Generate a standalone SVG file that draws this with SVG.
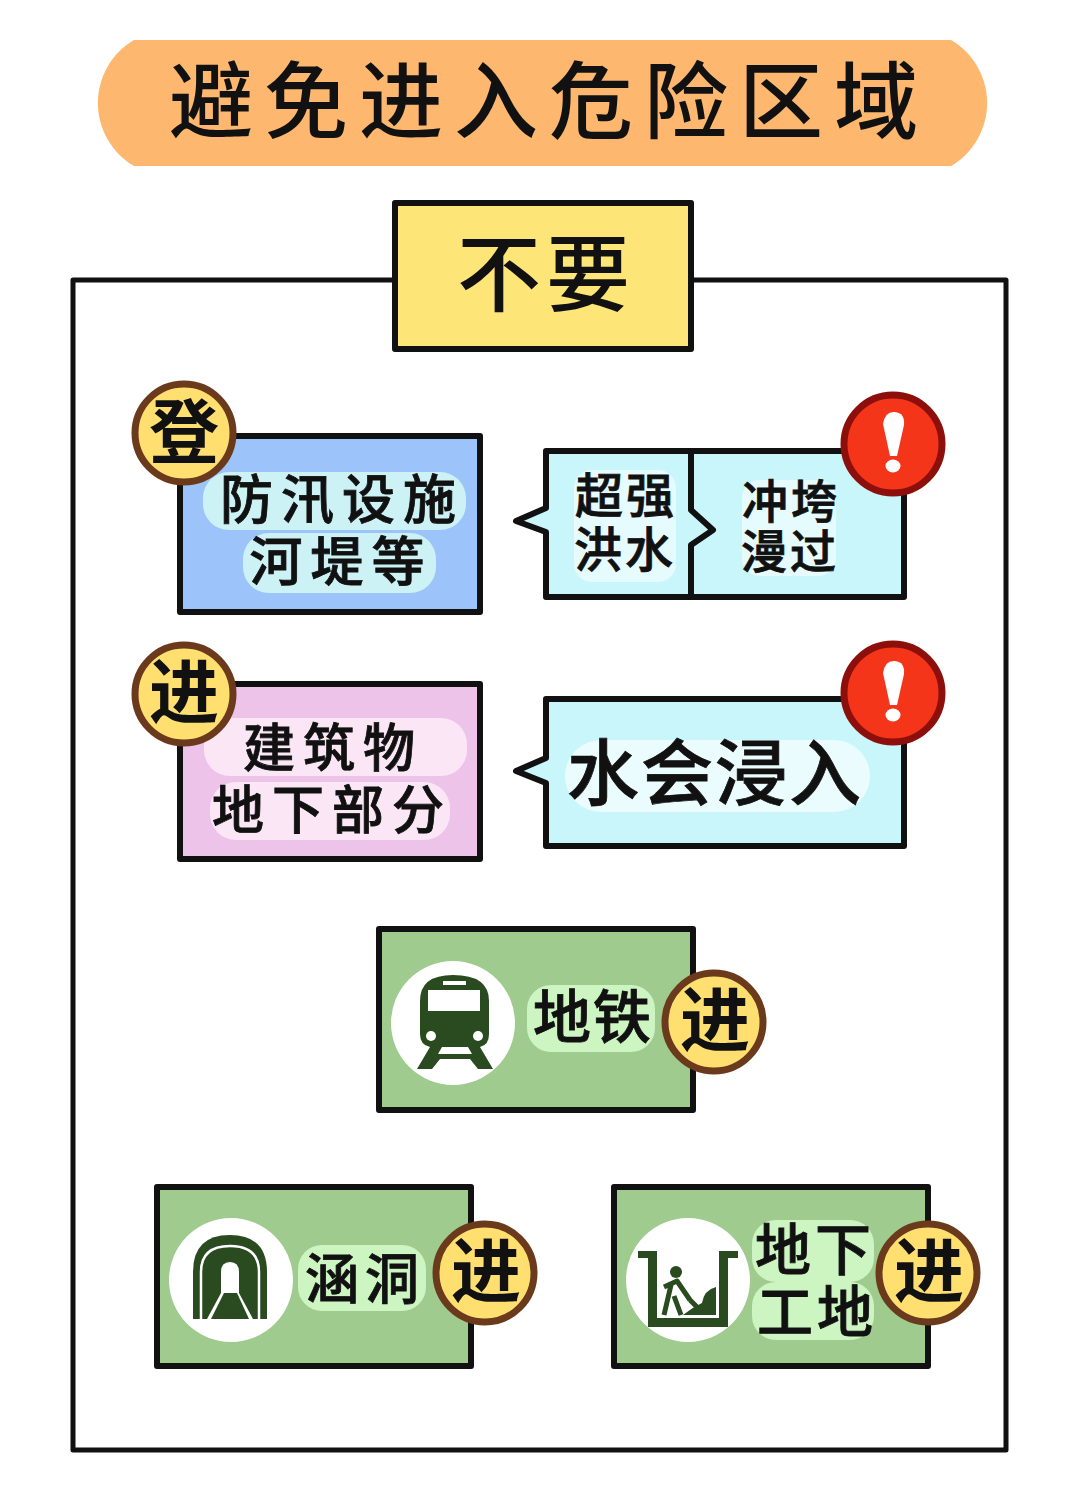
<svg xmlns="http://www.w3.org/2000/svg" width="1080" height="1489" viewBox="0 0 1080 1489">
<style>
text{font-family:"Noto Sans CJK SC","Noto Sans CJK JP",sans-serif;fill:#111;stroke:#111;stroke-width:.8;text-anchor:middle;font-weight:500}
.box{stroke:#111;stroke-width:6;stroke-linejoin:round}
.badge{fill:#ffdf70;stroke:#6b3a1c;stroke-width:7}
.bt{font-size:70px;font-weight:700;stroke:none}
.alert{fill:#f5351a;stroke:#8c0f0c;stroke-width:7}
.dark{fill:#2a4a20}
.g{fill:#9fcb8e}
.leaf{fill:#cdf5c2}
</style>
<rect width="1080" height="1489" fill="#fff"/>
<g id="title">
<path d="M134 40H951A73 73 0 0 1 951 166H134A73 73 0 0 1 134 40Z" fill="#fdb76f"/>
<text x="549" y="132" font-size="84" font-weight="700" letter-spacing="11" style="stroke:none">避免进入危险区域</text>
</g>
<g id="frame"><rect x="73" y="280" width="933" height="1170" fill="none" stroke="#111" stroke-width="5" stroke-linejoin="round"/></g>
<g id="header">
<rect class="box" x="395" y="203" width="296" height="146" fill="#fde577"/>
<text x="546" y="305" font-size="84" font-weight="700" letter-spacing="5" style="stroke:none">不要</text>
</g>
<g id="node-flood">
<rect class="box" x="180" y="436" width="300" height="176" fill="#9dc3fb"/>
<rect x="203" y="472" width="263" height="58" rx="26" fill="#ccf2f6"/>
<rect x="243" y="533" width="193" height="60" rx="26" fill="#ccf2f6"/>
<text font-size="53"><tspan x="342" y="519" letter-spacing="8">防汛设施</tspan><tspan x="341" y="581" letter-spacing="8">河堤等</tspan></text>
<circle class="badge" cx="184" cy="433" r="49"/>
<text class="bt" x="184" y="458">登</text>
</g>
<g id="node-flood-warning">
<path class="box" d="M546 451H904V597H546V532L516 521L546 508Z" fill="#c8f6fb"/>
<rect x="574" y="470" width="102" height="112" rx="18" fill="#e6fbfd"/>
<rect x="742" y="480" width="94" height="96" rx="18" fill="#e6fbfd"/>
<path d="M691 451V510L713 530L691 545V597" fill="none" stroke="#111" stroke-width="6" stroke-linejoin="round"/>
<text font-size="48"><tspan x="626" y="513" letter-spacing="3">超强</tspan><tspan x="625" y="567" letter-spacing="3">洪水</tspan></text>
<text font-size="46"><tspan x="791" y="518" letter-spacing="3">冲垮</tspan><tspan x="790" y="568" letter-spacing="3">漫过</tspan></text>
<circle class="alert" cx="893" cy="444" r="49"/>
<path d="M883 424Q885 411 895 412Q905 413 904 425L897 456H890Z" fill="#fff"/><ellipse cx="893" cy="466" rx="7.500" ry="6.500" fill="#fff"/>
</g>
<g id="node-building">
<rect class="box" x="180" y="684" width="300" height="175" fill="#eec3ea"/>
<rect x="204" y="718" width="263" height="58" rx="26" fill="#fbe6f5"/>
<rect x="210" y="782" width="240" height="58" rx="26" fill="#fbe6f5"/>
<text font-size="52"><tspan x="333" y="767" letter-spacing="8">建筑物</tspan><tspan x="332" y="829" letter-spacing="8">地下部分</tspan></text>
<circle class="badge" cx="184" cy="694" r="49"/>
<text class="bt" x="184" y="718">进</text>
</g>
<g id="node-building-warning">
<path class="box" d="M546 699H904V846H546V783L516 771L546 758Z" fill="#c8f6fb"/>
<rect x="565" y="740" width="305" height="72" rx="36" fill="#eafcfd"/>
<text x="715" y="799" font-size="72" letter-spacing="2">水会浸入</text>
<circle class="alert" cx="893" cy="693" r="49"/>
<path d="M883 673Q885 660 895 661Q905 662 904 674L897 705H890Z" fill="#fff"/><ellipse cx="893" cy="715" rx="7.500" ry="6.500" fill="#fff"/>
</g>
<g id="node-metro">
<rect class="box g" x="379" y="929" width="314" height="181"/>
<circle cx="453" cy="1023" r="62" fill="#fff"/>
<path class="dark" d="M420 1001Q420 975 453 975Q489 975 489 1001V1034Q489 1045 480 1047L493 1069H478L470 1059H440L432 1069H417L430 1047Q420 1045 420 1034Z"/>
<rect x="428" y="990" width="52" height="21" fill="#fff"/><rect x="443" y="981" width="23" height="4" fill="#fff"/>
<circle cx="431" cy="1036" r="5" fill="#fff"/><circle cx="478" cy="1036" r="5" fill="#fff"/>
<path d="M442 1047H468L472 1054H438Z" fill="#fff"/>
<rect x="527" y="985" width="128" height="67" rx="24" class="leaf"/>
<text x="593" y="1038" font-size="58" letter-spacing="2">地铁</text>
<circle class="badge" cx="714" cy="1022" r="49"/>
<text class="bt" x="715" y="1046">进</text>
</g>
<g id="node-culvert">
<rect class="box g" x="157" y="1187" width="314" height="179"/>
<circle cx="231" cy="1280" r="62" fill="#fff"/>
<path class="dark" d="M193 1319V1272Q193 1235 230 1235Q267 1235 267 1272V1319Z"/>
<path d="M201 1319V1272Q201 1246 230 1246Q259 1246 259 1272V1319" fill="none" stroke="#fff" stroke-width="2.500"/>
<path d="M221 1293V1272Q221 1262 230 1262Q239 1262 239 1272V1293Z" fill="#fff"/>
<path d="M221 1293H239L253 1319H207Z" fill="#fff"/>
<path class="dark" d="M224 1293H237L249 1319H211Z"/>
<rect x="298" y="1245" width="128" height="66" rx="24" class="leaf"/>
<text x="365" y="1299" font-size="54" letter-spacing="6">涵洞</text>
<circle class="badge" cx="485" cy="1273" r="49"/>
<text class="bt" x="486" y="1297">进</text>
</g>
<g id="node-site">
<rect class="box g" x="614" y="1187" width="314" height="179"/>
<circle cx="688" cy="1280" r="62" fill="#fff"/>
<path class="dark" d="M638 1251H657V1318H719V1251H738V1258H728V1327H648V1258H638Z"/>
<circle class="dark" cx="676" cy="1272" r="6"/>
<path d="M664 1287L677 1281L690 1300M671 1285L664 1315M674 1296L681 1315M690 1300L700 1310" fill="none" stroke="#2a4a20" stroke-width="5" stroke-linejoin="round"/>
<path class="dark" d="M683 1315Q695 1306 702 1303Q704 1290 716 1287V1315Z"/>
<rect x="752" y="1220" width="122" height="62" rx="24" class="leaf"/>
<rect x="752" y="1282" width="122" height="58" rx="24" class="leaf"/>
<text font-size="56"><tspan x="815" y="1270" letter-spacing="4">地下</tspan><tspan x="817" y="1332" letter-spacing="4">工地</tspan></text>
<circle class="badge" cx="928" cy="1273" r="49"/>
<text class="bt" x="929" y="1297">进</text>
</g>
</svg>
